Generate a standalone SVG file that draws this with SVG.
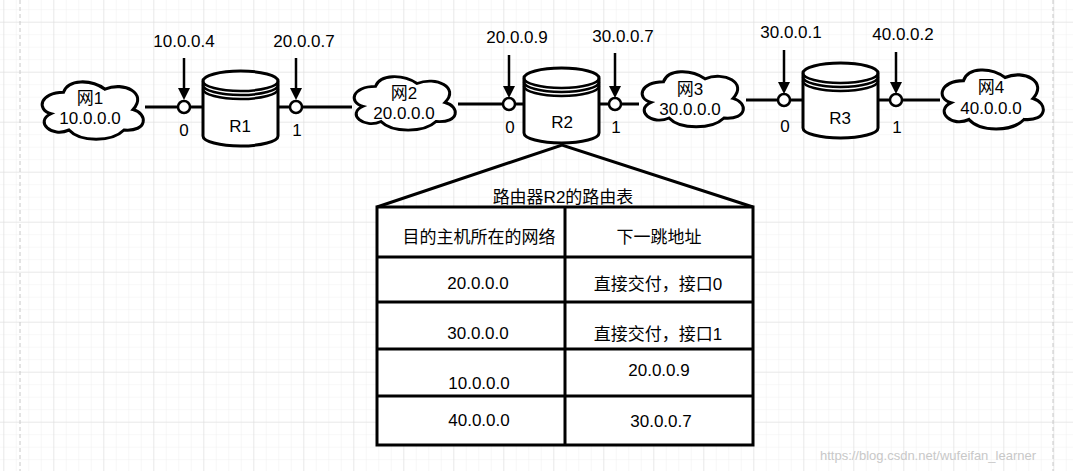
<svg xmlns="http://www.w3.org/2000/svg" width="1073" height="471" viewBox="0 0 1073 471">
<defs>
<pattern id="minor" x="3.3" y="9.2" width="12.5" height="12.5" patternUnits="userSpaceOnUse"><path d="M0,0H12.5M0,0V12.5" fill="none" stroke="#f0f0f0" stroke-width="1"/></pattern>
<pattern id="major" x="3.3" y="21.7" width="50" height="50" patternUnits="userSpaceOnUse"><path d="M0,0H50M0,0V50" fill="none" stroke="#dcdcdc" stroke-width="1"/></pattern>
<path id="cloud" d="M27.5,13 C4,13 0,30 15,34 C-2,42 16,58 33,50 C44,62 76,62 88,50 C112,52 112,34 97,30 C112,14 88,2 69,10 C55,0 32,0 27.5,13 Z"/>
<g id="router">
<path d="M0,10 A37.5,10 0 0 1 75,10 V65 A37.5,10 0 0 1 0,65 Z" fill="#fff" stroke="#000" stroke-width="3"/>
<path d="M0,10 A37.5,10 0 0 0 75,10 M0,14 A37.5,10 0 0 0 75,14 M0,18 A37.5,10 0 0 0 75,18" fill="none" stroke="#000" stroke-width="2.5"/>
</g>
</defs>
<style>
text{font-family:"Liberation Sans","Noto Sans CJK SC",sans-serif;font-size:17px;text-anchor:middle;fill:#000}
.cl{fill:#fff;stroke:#000;stroke-width:3}
.ln{stroke:#000;stroke-width:3;fill:none}
.ar{stroke:#000;stroke-width:2.5;fill:none}
.pt{fill:#fff;stroke:#000;stroke-width:2.5}
</style>
<rect width="1073" height="471" fill="#fff"/>
<rect width="1073" height="471" fill="url(#minor)"/>
<rect width="1073" height="471" fill="url(#major)"/>
<line x1="20" y1="0" x2="20" y2="471" stroke="#c8c8c8" stroke-dasharray="4,3"/>
<line x1="1053" y1="0" x2="1053" y2="471" stroke="#c8c8c8" stroke-dasharray="4,3"/>

<g id="connectors">
<path class="ln" d="M145,107H178 M190,107H203 M278,107H290 M302,107H352"/>
<path class="ln" d="M458,104H503 M515,104H524 M599,104H609 M621,104H639"/>
<path class="ln" d="M746,100H777 M789,100H803 M878,100H889 M901,100H940"/>
<line class="ar" x1="184" y1="58" x2="184" y2="90"/><path d="M178,88 L184,100 L190,88 Z"/>
<line class="ar" x1="296" y1="58" x2="296" y2="90"/><path d="M290,88 L296,100 L302,88 Z"/>
<line class="ar" x1="509" y1="55" x2="509" y2="88"/><path d="M503,86 L509,98 L515,86 Z"/>
<line class="ar" x1="615" y1="53" x2="615" y2="88"/><path d="M609,86 L615,98 L621,86 Z"/>
<line class="ar" x1="784" y1="50" x2="784" y2="84"/><path d="M778,82 L784,94 L790,82 Z"/>
<line class="ar" x1="896" y1="52" x2="896" y2="84"/><path d="M890,82 L896,94 L902,82 Z"/>
</g>

<g id="net1"><use href="#cloud" class="cl" transform="translate(36,79) scale(1.0,1.02)"/><text x="90" y="104">网1</text><text x="90" y="124">10.0.0.0</text></g>
<g id="net2"><use href="#cloud" class="cl" transform="translate(348,74) scale(1.0,0.95)"/><text x="404" y="99">网2</text><text x="404" y="119">20.0.0.0</text></g>
<g id="net3"><use href="#cloud" class="cl" transform="translate(636,69) scale(1.0,0.98)"/><text x="690" y="95">网3</text><text x="690" y="115">30.0.0.0</text></g>
<g id="net4"><use href="#cloud" class="cl" transform="translate(936,67) scale(1.0,1.05)"/><text x="991" y="93">网4</text><text x="991" y="114">40.0.0.0</text></g>

<g id="R1"><use href="#router" transform="translate(203,71)"/><text x="240" y="132">R1</text></g>
<g id="R2"><use href="#router" transform="translate(524,68)"/><text x="562" y="128">R2</text></g>
<g id="R3"><use href="#router" transform="translate(803,63)"/><text x="840" y="124">R3</text></g>

<g id="ports">
<circle class="pt" cx="184" cy="107" r="6"/><text x="184" y="47">10.0.0.4</text><text x="184" y="136">0</text>
<circle class="pt" cx="296" cy="107" r="6"/><text x="304" y="47">20.0.0.7</text><text x="297" y="136">1</text>
<circle class="pt" cx="509" cy="104" r="6"/><text x="517" y="43">20.0.0.9</text><text x="510" y="133">0</text>
<circle class="pt" cx="615" cy="104" r="6"/><text x="623" y="42">30.0.0.7</text><text x="616" y="133">1</text>
<circle class="pt" cx="784" cy="100" r="6"/><text x="791" y="38">30.0.0.1</text><text x="785" y="132">0</text>
<circle class="pt" cx="896" cy="100" r="6"/><text x="903" y="40">40.0.0.2</text><text x="897" y="133">1</text>
</g>

<g id="table">
<path class="ln" d="M377,207 L562,145 L753,207"/>
<text x="563" y="203">路由器R2的路由表</text>
<rect x="377" y="207" width="376" height="238" fill="#fff" stroke="#000" stroke-width="3"/>
<path class="ln" d="M565,207V445 M377,257H753 M377,302H753 M377,349H753 M377,396H753"/>
<text x="479" y="243">目的主机所在的网络</text><text x="659" y="243">下一跳地址</text>
<text x="478" y="289">20.0.0.0</text><text x="658" y="290">直接交付，接口0</text>
<text x="478" y="339">30.0.0.0</text><text x="658" y="340">直接交付，接口1</text>
<text x="479" y="389">10.0.0.0</text><text x="659" y="376">20.0.0.9</text>
<text x="479" y="426">40.0.0.0</text><text x="661" y="427">30.0.0.7</text>
</g>
<text x="928" y="460" style="font-size:13px;fill:#c8c8c8">https://blog.csdn.net/wufeifan_learner</text>
</svg>
